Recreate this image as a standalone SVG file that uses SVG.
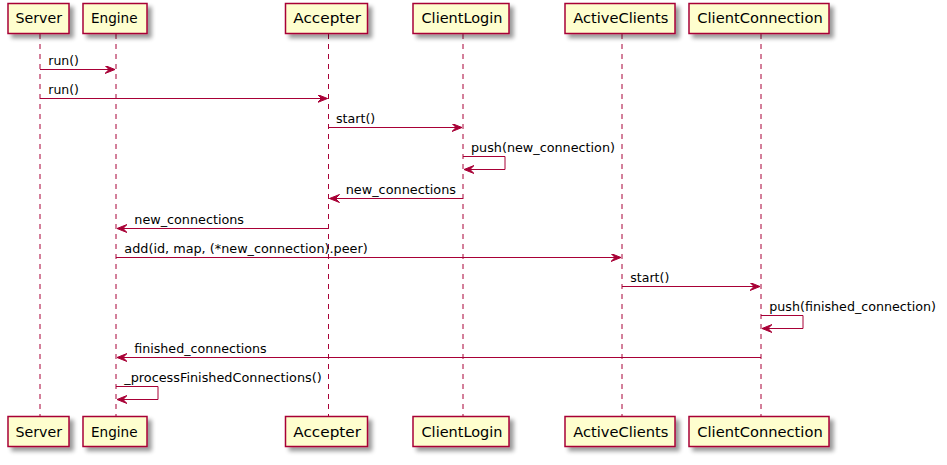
<svg xmlns="http://www.w3.org/2000/svg" width="947" height="465" viewBox="0 0 947 465">
<defs>
<filter id="sh" x="-20%" y="-20%" width="150%" height="160%">
<feGaussianBlur in="SourceAlpha" stdDeviation="2"/>
<feOffset dx="4" dy="4" result="b"/>
<feComponentTransfer><feFuncA type="linear" slope="0.4"/></feComponentTransfer>
<feMerge><feMergeNode/><feMergeNode in="SourceGraphic"/></feMerge>
</filter>
<marker id="ah" markerWidth="12" markerHeight="10" refX="10" refY="4" orient="auto" markerUnits="userSpaceOnUse" viewBox="0 0 12 10">
<polygon points="0,0 10,4 0,8 4,4" fill="#A80036" stroke="#A80036" stroke-width="1"/>
</marker>
</defs>
<style>
.box{fill:#FEFECE;stroke:#A80036;stroke-width:1.5}
.life{stroke:#A80036;stroke-width:1;stroke-dasharray:5,5;fill:none}
.pt{font-family:"DejaVu Sans",sans-serif;font-size:14px;fill:#000}
.msg{stroke:#A80036;stroke-width:1;fill:none;marker-end:url(#ah)}
.ml{font-family:"DejaVu Sans",sans-serif;font-size:13px;fill:#000}
</style>
<rect width="947" height="465" fill="#FFFFFF"/>
<g id="lifelines">
<line class="life" x1="40" y1="34" x2="40" y2="416"/>
<line class="life" x1="116" y1="34" x2="116" y2="416"/>
<line class="life" x1="328.5" y1="34" x2="328.5" y2="416"/>
<line class="life" x1="463" y1="34" x2="463" y2="416"/>
<line class="life" x1="622" y1="34" x2="622" y2="416"/>
<line class="life" x1="761" y1="34" x2="761" y2="416"/>
</g>
<g id="Server">
<rect class="box" x="8" y="3.5" width="61" height="30" filter="url(#sh)"/>
<text class="pt" x="15.5" y="23" textLength="46.5" lengthAdjust="spacingAndGlyphs">Server</text>
<rect class="box" x="8" y="416.5" width="61" height="30" filter="url(#sh)"/>
<text class="pt" x="15.5" y="436.5" textLength="46.5" lengthAdjust="spacingAndGlyphs">Server</text>
</g>
<g id="Engine">
<rect class="box" x="83" y="3.5" width="64" height="30" filter="url(#sh)"/>
<text class="pt" x="91" y="23" textLength="46.5" lengthAdjust="spacingAndGlyphs">Engine</text>
<rect class="box" x="83" y="416.5" width="64" height="30" filter="url(#sh)"/>
<text class="pt" x="91" y="436.5" textLength="46.5" lengthAdjust="spacingAndGlyphs">Engine</text>
</g>
<g id="Accepter">
<rect class="box" x="285.5" y="3.5" width="82" height="30" filter="url(#sh)"/>
<text class="pt" x="293.3" y="23" textLength="67.7" lengthAdjust="spacingAndGlyphs">Accepter</text>
<rect class="box" x="285.5" y="416.5" width="82" height="30" filter="url(#sh)"/>
<text class="pt" x="293.3" y="436.5" textLength="67.7" lengthAdjust="spacingAndGlyphs">Accepter</text>
</g>
<g id="ClientLogin">
<rect class="box" x="413" y="3.5" width="96" height="30" filter="url(#sh)"/>
<text class="pt" x="421.5" y="23" textLength="81" lengthAdjust="spacingAndGlyphs">ClientLogin</text>
<rect class="box" x="413" y="416.5" width="96" height="30" filter="url(#sh)"/>
<text class="pt" x="421.5" y="436.5" textLength="81" lengthAdjust="spacingAndGlyphs">ClientLogin</text>
</g>
<g id="ActiveClients">
<rect class="box" x="565" y="3.5" width="110" height="30" filter="url(#sh)"/>
<text class="pt" x="573.2" y="23" textLength="95.2" lengthAdjust="spacingAndGlyphs">ActiveClients</text>
<rect class="box" x="565" y="416.5" width="110" height="30" filter="url(#sh)"/>
<text class="pt" x="573.2" y="436.5" textLength="95.2" lengthAdjust="spacingAndGlyphs">ActiveClients</text>
</g>
<g id="ClientConnection">
<rect class="box" x="689" y="3.5" width="140" height="30" filter="url(#sh)"/>
<text class="pt" x="697.3" y="23" textLength="125.4" lengthAdjust="spacingAndGlyphs">ClientConnection</text>
<rect class="box" x="689" y="416.5" width="140" height="30" filter="url(#sh)"/>
<text class="pt" x="697.3" y="436.5" textLength="125.4" lengthAdjust="spacingAndGlyphs">ClientConnection</text>
</g>
<g id="connectors">
<line class="msg" x1="40" y1="69.5" x2="115" y2="69.5"/>
<text class="ml" x="48.3" y="65" textLength="30.7" lengthAdjust="spacingAndGlyphs">run()</text>
<line class="msg" x1="40" y1="98.5" x2="327.5" y2="98.5"/>
<text class="ml" x="48.3" y="94" textLength="30.7" lengthAdjust="spacingAndGlyphs">run()</text>
<line class="msg" x1="328.5" y1="127.5" x2="462" y2="127.5"/>
<text class="ml" x="336" y="123" textLength="39.3" lengthAdjust="spacingAndGlyphs">start()</text>
<polyline class="msg" points="463,156.5 505,156.5 505,169.5 464,169.5"/>
<text class="ml" x="471" y="152" textLength="144" lengthAdjust="spacingAndGlyphs">push(new_connection)</text>
<line class="msg" x1="463" y1="198.5" x2="329.5" y2="198.5"/>
<text class="ml" x="345.7" y="194" textLength="110.3" lengthAdjust="spacingAndGlyphs">new_connections</text>
<line class="msg" x1="328.5" y1="228.5" x2="117" y2="228.5"/>
<text class="ml" x="134.3" y="224" textLength="109.7" lengthAdjust="spacingAndGlyphs">new_connections</text>
<line class="msg" x1="116" y1="257.5" x2="621" y2="257.5"/>
<text class="ml" x="124.3" y="253" textLength="243.4" lengthAdjust="spacingAndGlyphs">add(id, map, (*new_connection).peer)</text>
<line class="msg" x1="622" y1="286.5" x2="760" y2="286.5"/>
<text class="ml" x="630.3" y="282" textLength="39" lengthAdjust="spacingAndGlyphs">start()</text>
<polyline class="msg" points="761,315.5 803,315.5 803,328.5 762,328.5"/>
<text class="ml" x="769.3" y="311" textLength="166.7" lengthAdjust="spacingAndGlyphs">push(finished_connection)</text>
<line class="msg" x1="761" y1="357.5" x2="117" y2="357.5"/>
<text class="ml" x="134.3" y="353" textLength="132.4" lengthAdjust="spacingAndGlyphs">finished_connections</text>
<polyline class="msg" points="116,386.5 158,386.5 158,399.5 117,399.5"/>
<text class="ml" x="124.3" y="382" textLength="197.4" lengthAdjust="spacingAndGlyphs">_processFinishedConnections()</text>
</g>
</svg>
